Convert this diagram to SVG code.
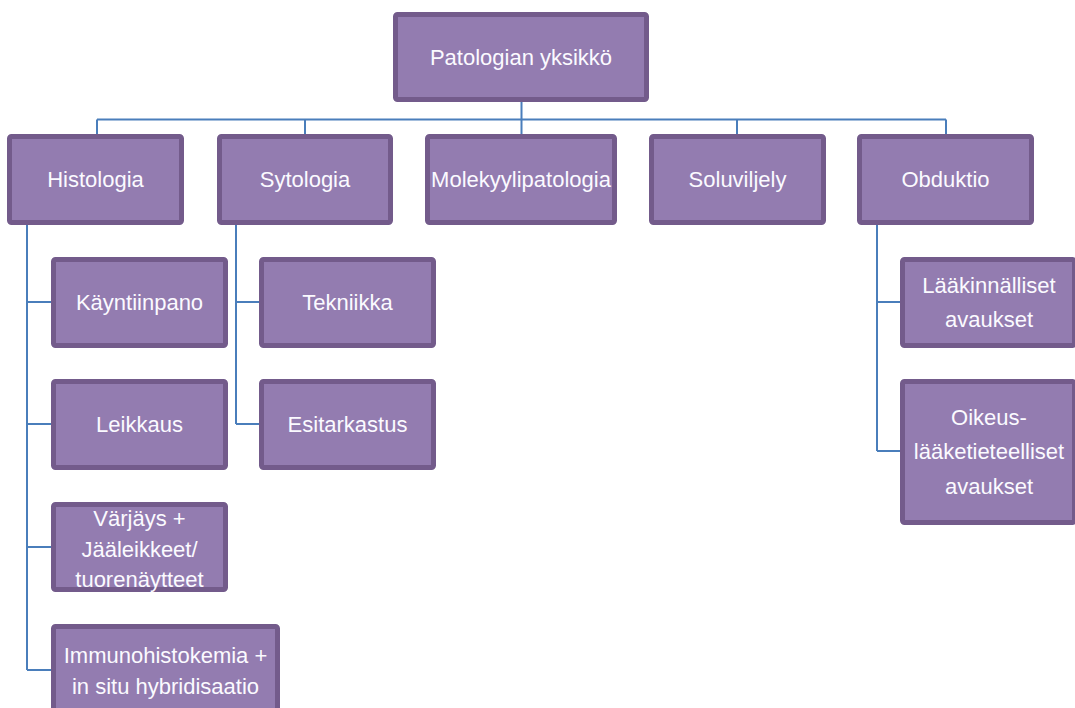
<svg xmlns="http://www.w3.org/2000/svg" width="1075" height="708" viewBox="0 0 1075 708">
<style>
.box{fill:#937cb0;stroke:#735b8b;stroke-width:5;}
.lbl{font-family:"Liberation Sans",Arial,sans-serif;font-size:22px;fill:#fbfaff;text-anchor:middle;}
.con{stroke:#4a7ebb;stroke-width:2;fill:none;}
</style>
<rect width="1075" height="708" fill="#ffffff"/>
<g id="connectors">
<path class="con" d="M521.5 102V119.5M97 119.5H946M97 119.5V134M305 119.5V134M521.5 119.5V134M737 119.5V134M946 119.5V134"/>
<path class="con" d="M27 225V670M27 302H51M27 424H51M27 547H51M27 670H51"/>
<path class="con" d="M236 225V424M236 302H259M236 424H259"/>
<path class="con" d="M877 225V451M877 302H900M877 451H900"/>
</g>
<g id="root"><rect class="box" x="395.5" y="14.5" width="251" height="85" rx="2"/><text class="lbl" x="521" y="65">Patologian yksikkö</text></g>
<g id="histologia"><rect class="box" x="9.5" y="136.5" width="172" height="86" rx="2"/><text class="lbl" x="95.5" y="187">Histologia</text></g>
<g id="sytologia"><rect class="box" x="219.5" y="136.5" width="171" height="86" rx="2"/><text class="lbl" x="305" y="187">Sytologia</text></g>
<g id="molekyylipatologia"><rect class="box" x="427.5" y="136.5" width="187" height="86" rx="2"/><text class="lbl" x="521" y="187">Molekyylipatologia</text></g>
<g id="soluviljely"><rect class="box" x="651.5" y="136.5" width="172" height="86" rx="2"/><text class="lbl" x="737.5" y="187">Soluviljely</text></g>
<g id="obduktio"><rect class="box" x="859.5" y="136.5" width="172" height="86" rx="2"/><text class="lbl" x="945.5" y="187">Obduktio</text></g>
<g id="kayntiinpano"><rect class="box" x="53.5" y="259.5" width="172" height="86" rx="2"/><text class="lbl" x="139.5" y="310">Käyntiinpano</text></g>
<g id="leikkaus"><rect class="box" x="53.5" y="381.5" width="172" height="86" rx="2"/><text class="lbl" x="139.5" y="432">Leikkaus</text></g>
<g id="varjays"><rect class="box" x="53.5" y="504.5" width="172" height="85" rx="2"/><text class="lbl" x="139.5" y="526">Värjäys +</text><text class="lbl" x="139.5" y="556.5">Jääleikkeet/</text><text class="lbl" x="139.5" y="587">tuorenäytteet</text></g>
<g id="immuno"><rect class="box" x="53.5" y="626.5" width="224" height="86" rx="2"/><text class="lbl" x="165.5" y="663">Immunohistokemia +</text><text class="lbl" x="165.5" y="694">in situ hybridisaatio</text></g>
<g id="tekniikka"><rect class="box" x="261.5" y="259.5" width="172" height="86" rx="2"/><text class="lbl" x="347.5" y="310">Tekniikka</text></g>
<g id="esitarkastus"><rect class="box" x="261.5" y="381.5" width="172" height="86" rx="2"/><text class="lbl" x="347.5" y="432">Esitarkastus</text></g>
<g id="laakinnalliset"><rect class="box" x="902.5" y="259.5" width="172" height="86" rx="2"/><text class="lbl" x="989" y="293">Lääkinnälliset</text><text class="lbl" x="989" y="327">avaukset</text></g>
<g id="oikeus"><rect class="box" x="902.5" y="381.5" width="172" height="141" rx="2"/><text class="lbl" x="989" y="425">Oikeus-</text><text class="lbl" x="989" y="459">lääketieteelliset</text><text class="lbl" x="989" y="494">avaukset</text></g>
</svg>
